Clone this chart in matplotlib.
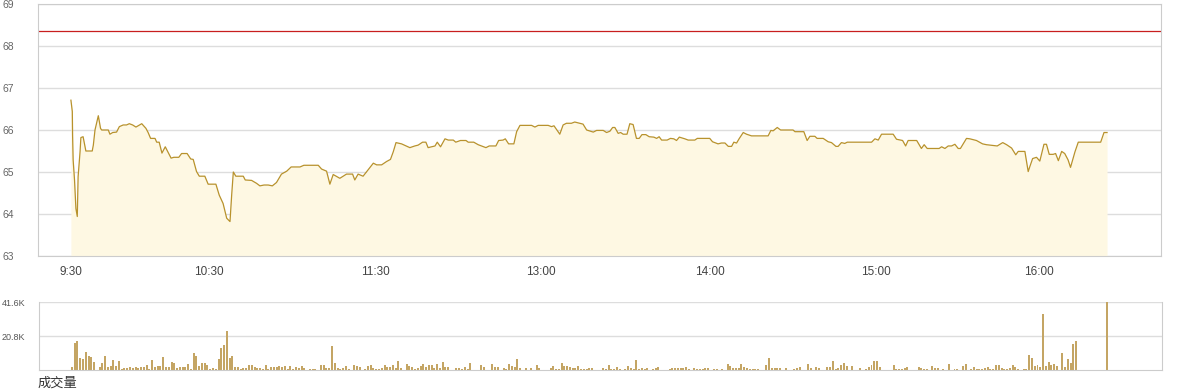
import matplotlib.pyplot as plt

plt.rcParams['font.family'] = ['Liberation Sans', 'Noto Sans CJK SC', 'DejaVu Sans']

# intraday price, minute index from the open
t_price = [0, 0.5, 0.6, 0.8, 1.3, 1.8, 2.3, 2.6, 3.3, 3.6, 4.4, 5.4, 7.7, 8.1, 8.7, 9.9,
           10.7, 11.1, 13.5, 14.1, 15.1, 16.5, 17.5, 18.9, 20.1, 21.1, 22.3, 23.5, 25.6,
           27.1, 27.9, 28.8, 30.4, 31.0, 31.9, 32.9, 34.1, 36.2, 37.2, 39.0, 40.0, 42.0,
           43.3, 44.2, 45.4, 46.4, 48.4, 49.6, 52.4, 53.6, 55.0, 56.3, 57.5, 58.1, 58.7,
           59.6, 62.3, 63.0, 65.3, 67.1, 68.3, 69.8, 71.3, 72.8, 74.3, 76.1, 78.0, 79.6,
           82.8, 84.2, 89.4, 90.6, 92.4, 93.6, 94.8, 97.2, 99.6, 101.8, 102.6, 103.8,
           105.6, 106.9, 108.1, 109.3, 110.5, 112.3, 114.1, 115.5, 116.5, 117.5, 119.5,
           122.5, 124.3, 125.5, 127.1, 128.3, 129.1, 131.6, 132.4, 133.6, 135.2, 136.4,
           138.2, 139.1, 140.8, 142.8, 143.6, 145.6, 147.2, 148.4, 150.0, 151.2, 153.6,
           154.6, 156.2, 157.0, 158.2, 160.1, 161.1, 162.3, 166.5, 167.7, 168.9, 172.5,
           173.7, 174.6, 176.7, 177.9, 179.1, 180.9, 182.1, 185.1, 186.4, 188.8, 190.0,
           192.4, 193.6, 194.8, 195.8, 196.6, 197.8, 198.7, 199.6, 201.0, 202.0, 203.2,
           204.4, 205.4, 206.4, 207.8, 209.0, 210.7, 211.7, 212.6, 213.5, 215.5, 216.7,
           217.9, 218.9, 219.9, 221.9, 223.1, 225.5, 226.4, 230.9, 231.9, 233.9, 235.1,
           236.4, 237.6, 238.8, 239.6, 240.6, 241.5, 243.0, 244.2, 246.0, 252.0, 253.0,
           253.8, 255.3, 256.5, 261.0, 261.7, 264.9, 266.1, 267.1, 268.9, 269.7, 271.9,
           273.7, 274.9, 276.5, 277.3, 278.5, 279.7, 280.6, 289.4, 290.6, 291.8, 293.0,
           297.2, 298.4, 300.6, 301.7, 302.6, 305.7, 307.4, 308.4, 309.5, 313.8, 314.7,
           315.9, 317.1, 318.3, 319.5, 320.7, 321.5, 323.7, 324.9, 327.3, 329.5, 330.9,
           334.8, 336.8, 338.2, 340.0, 341.5, 342.4, 344.8, 346.0, 346.6, 347.6, 349.0,
           350.2, 351.7, 352.6, 353.6, 355.0, 355.9, 356.9, 358.1, 359.2, 360.4, 361.3,
           362.9, 364.1, 372.2, 373.4, 374.5]
price = [66.71, 66.44, 65.88, 65.29, 64.81, 64.13, 63.94, 64.89, 65.48, 65.82, 65.84, 65.50,
         65.50, 65.64, 66.00, 66.34, 66.04, 66.00, 66.00, 65.90, 65.94, 65.95, 66.08, 66.12,
         66.12, 66.15, 66.12, 66.07, 66.15, 66.04, 65.94, 65.80, 65.80, 65.71, 65.71, 65.45,
         65.60, 65.33, 65.35, 65.35, 65.44, 65.44, 65.31, 65.30, 65.01, 64.90, 64.90, 64.71,
         64.71, 64.45, 64.25, 63.90, 63.82, 64.45, 65.00, 64.90, 64.90, 64.81, 64.80, 64.73,
         64.67, 64.69, 64.69, 64.67, 64.75, 64.95, 65.02, 65.12, 65.12, 65.16, 65.16, 65.07,
         65.02, 64.71, 64.94, 64.85, 64.95, 64.95, 64.81, 64.95, 64.90, 65.01, 65.11, 65.21,
         65.17, 65.17, 65.25, 65.30, 65.48, 65.70, 65.67, 65.58, 65.62, 65.64, 65.71, 65.71,
         65.58, 65.62, 65.71, 65.60, 65.79, 65.76, 65.76, 65.71, 65.75, 65.75, 65.71, 65.71,
         65.65, 65.62, 65.58, 65.62, 65.62, 65.75, 65.76, 65.79, 65.67, 65.67, 65.96, 66.11,
         66.11, 66.07, 66.11, 66.11, 66.08, 66.10, 65.90, 66.12, 66.16, 66.16, 66.19, 66.14,
         66.00, 65.95, 65.99, 65.99, 65.94, 65.97, 66.06, 66.06, 65.92, 65.94, 65.90, 65.90,
         66.15, 66.13, 65.80, 65.80, 65.89, 65.89, 65.84, 65.83, 65.80, 65.84, 65.76, 65.76,
         65.80, 65.79, 65.75, 65.83, 65.79, 65.76, 65.76, 65.80, 65.80, 65.72, 65.67, 65.69,
         65.69, 65.61, 65.61, 65.71, 65.69, 65.79, 65.94, 65.90, 65.86, 65.86, 65.99, 65.98,
         66.06, 66.00, 66.00, 65.96, 65.96, 65.75, 65.85, 65.85, 65.80, 65.80, 65.72, 65.70,
         65.61, 65.61, 65.70, 65.68, 65.71, 65.71, 65.79, 65.76, 65.90, 65.90, 65.78, 65.75,
         65.62, 65.75, 65.75, 65.56, 65.65, 65.56, 65.56, 65.60, 65.56, 65.62, 65.62, 65.66,
         65.56, 65.56, 65.80, 65.79, 65.75, 65.67, 65.65, 65.62, 65.70, 65.65, 65.57, 65.41,
         65.49, 65.49, 65.01, 65.13, 65.32, 65.35, 65.26, 65.66, 65.66, 65.42, 65.42, 65.44,
         65.27, 65.49, 65.44, 65.29, 65.11, 65.48, 65.71, 65.71, 65.94, 65.94]
prev_close = 68.35

# volume per minute, in thousands
volume = [
    1.8, 16.7, 17.9, 7.3, 6.7, 11.2, 8.6, 8.0, 5.1, 0,
    1.8, 4.5, 8.6, 2.0, 2.7, 6.1, 2.7, 5.5, 0.8, 1.2,
    1.2, 1.8, 1.2, 1.8, 1.2, 1.8, 1.8, 3.3, 0.6, 6.1,
    2.0, 2.4, 2.4, 8.0, 1.8, 1.8, 4.9, 4.3, 1.4, 1.8,
    1.8, 1.8, 3.7, 0.8, 10.4, 8.6, 2.4, 4.3, 4.3, 3.1,
    0.8, 1.2, 0.6, 6.7, 13.5, 15.5, 23.9, 7.3, 8.6, 1.8,
    1.8, 0.8, 1.2, 1.2, 3.1, 3.1, 1.8, 1.2, 1.2, 0.6,
    3.1, 0.8, 1.8, 1.8, 1.8, 2.4, 1.8, 2.4, 0.6, 2.4,
    0.6, 1.8, 1.2, 2.4, 1.2, 0, 0.6, 0.6, 0.6, 0,
    3.1, 3.1, 1.2, 1.2, 14.7, 4.3, 1.2, 0.6, 1.2, 2.4,
    0.6, 0, 3.1, 2.4, 1.8, 0, 0.6, 2.4, 3.1, 1.2,
    0.6, 0.6, 1.2, 3.1, 1.8, 1.8, 3.1, 1.2, 5.5, 1.2,
    0, 3.7, 2.4, 1.8, 0.6, 1.2, 2.4, 3.7, 1.8, 3.1,
    3.1, 1.2, 3.7, 1.2, 4.9, 1.8, 1.8, 0, 0, 1.2,
    1.2, 0.6, 1.8, 0.6, 4.3, 0, 0, 0, 3.1, 1.8,
    0, 0, 3.7, 1.8, 1.8, 0, 1.2, 0.6, 3.7, 2.4,
    1.8, 6.7, 1.2, 0, 1.2, 0, 1.2, 0, 3.1, 1.2,
    0, 0, 0, 1.2, 2.4, 0.6, 0.6, 4.3, 2.4, 2.4,
    1.8, 1.2, 1.2, 2.4, 0.6, 0.6, 0.6, 1.2, 1.2, 0,
    0, 0, 1.2, 0.6, 3.1, 0.6, 0.6, 1.8, 0.6, 0,
    0.6, 2.4, 1.2, 0.6, 6.1, 0.6, 1.2, 0.6, 1.2, 0,
    0.6, 1.2, 1.8, 0, 0, 0, 0.6, 1.2, 1.2, 1.2,
    1.2, 1.2, 1.8, 0.6, 0, 1.2, 0.6, 0.6, 0.6, 1.2,
    1.2, 0, 0.6, 0.6, 0, 0.6, 0, 3.7, 2.4, 1.2,
    1.2, 1.2, 3.7, 1.8, 1.2, 0.6, 0.6, 0.6, 0.6, 0,
    0, 3.1, 7.3, 1.2, 1.2, 1.2, 1.2, 0, 1.2, 0,
    0, 0.6, 1.2, 1.8, 0, 0, 3.7, 1.2, 0, 1.8,
    1.2, 0, 0, 1.8, 1.8, 5.5, 0.6, 1.2, 3.1, 4.3,
    2.4, 0, 2.4, 0, 0, 1.2, 0, 0.6, 1.8, 3.1,
    5.5, 5.5, 1.8, 0, 0, 0, 0, 3.1, 0.6, 0.6,
    0.6, 1.2, 1.8, 0, 0, 0, 1.8, 1.2, 0.6, 0.6,
    0, 2.4, 1.2, 1.2, 0, 0.6, 0, 3.7, 0, 0.6,
    0.6, 0, 2.4, 3.7, 0, 0.6, 1.8, 0.6, 0.6, 0.6,
    1.2, 1.8, 0.6, 0.6, 3.1, 3.1, 1.2, 0.6, 0.6, 1.2,
    3.1, 1.8, 0.6, 0, 0.6, 0.6, 9.2, 7.3, 2.4, 3.1,
    1.8, 34.3, 2.4, 4.9, 3.1, 3.7, 2.4, 0, 10.4, 1.8,
    6.7, 4.3, 15.9, 17.7, 0, 0, 0, 0, 0, 0,
    0, 0, 0, 0, 41.6,
]
vol_minutes = list(range(len(volume)))

tick_pos = [0, 50, 110, 170, 231, 291, 350]
tick_labels = ['9:30', '10:30', '11:30', '13:00', '14:00', '15:00', '16:00']

line_c = '#b8922c'
fill_c = '#fef8e3'
bar_c = '#c4a564'
grid_c = '#dddddd'
spine_c = '#cccccc'

fig = plt.figure(figsize=(11.8, 3.92), dpi=100)
ax1 = fig.add_axes([38 / 1180, 1 - 256 / 392, 1123 / 1180, 252 / 392])
ax2 = fig.add_axes([39 / 1180, 1 - 370 / 392, 1123 / 1180, 68 / 392])

xlim = (-11.9, 394)

# price panel
ax1.fill_between(t_price, price, 63, color=fill_c, lw=0)
ax1.plot(t_price, price, color=line_c, lw=0.9)
ax1.axhline(prev_close, color='#c81e1e', lw=0.9)
ax1.set_xlim(xlim)
ax1.set_ylim(63, 69)
ax1.set_yticks(range(63, 70))
ax1.grid(axis='y', color=grid_c, lw=1)
ax1.set_axisbelow(True)
ax1.set_xticks(tick_pos)
ax1.set_xticklabels(tick_labels)
ax1.tick_params(axis='x', length=0, pad=7, labelsize=8.5, labelcolor='#444444')
ax1.tick_params(axis='y', length=0, pad=17, labelsize=7.5, labelcolor='#666666')
for s in ax1.spines.values():
    s.set_color(spine_c)

# volume panel
ax2.bar(vol_minutes, volume, width=0.72, color=bar_c, lw=0)
ax2.set_xlim(xlim)
ax2.set_ylim(0, 41.6)
ax2.set_yticks([20.8, 41.6])
ax2.set_yticklabels(['20.8K', '41.6K'])
ax2.set_xticks([])
ax2.grid(axis='y', color=grid_c, lw=1)
ax2.set_axisbelow(True)
ax2.tick_params(axis='y', length=0, pad=10, labelsize=6.5, labelcolor='#555555')
for s in ax2.spines.values():
    s.set_color(spine_c)
ax2.spines['top'].set_visible(False)

fig.text(38 / 1180, 1 - 384 / 392, '成交量', fontsize=9.5, color='#333333', va='center')

fig.savefig('out.png', dpi=100)
